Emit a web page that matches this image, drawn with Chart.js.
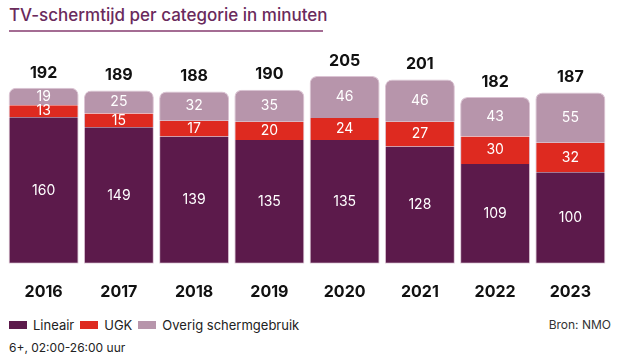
<!DOCTYPE html>
<html>
<head>
<meta charset="utf-8">
<script src="https://cdn.jsdelivr.net/npm/chart.js@4.4.1/dist/chart.umd.min.js"></script>
<style>
  body { margin: 0; background: #fff; font-family: Inter, "DejaVu Sans", sans-serif; }
  #wrap { position: relative; width: 620px; height: 360px; overflow: hidden; }
  #title { position: absolute; left: 9px; top: 5px; width: 314px; font-size: 17px; font-weight: 500;
           color: #6a2a5c; padding-bottom: 5px; border-bottom: 2px solid #a46c93; white-space: nowrap; }
  #chart { position: absolute; left: 0; top: 0; }
  #legend { position: absolute; left: 9px; top: 317px; font-size: 13px; color: #222; display: flex; }
  #legend span.item { display: flex; align-items: center; margin-right: 6px; }
  #legend i { display: inline-block; width: 18px; height: 8px; margin-right: 6px; }
  #bron { position: absolute; right: 9px; top: 317px; font-size: 12px; color: #333; }
  #note { position: absolute; left: 9px; top: 340px; font-size: 12px; color: #222; }
</style>
</head>
<body>
<div id="wrap">
  <div id="title">TV-schermtijd per categorie in minuten</div>
  <canvas id="chart" width="620" height="313"></canvas>
  <div id="legend"></div>
  <div id="bron">Bron: NMO</div>
  <div id="note">6+, 02:00-26:00 uur</div>
</div>
<script>
window.onload = () => {
    // jaren en minuten per categorie
    var years = ['2016', '2017', '2018', '2019', '2020', '2021', '2022', '2023'];
    var lineair = [160, 149, 139, 135, 135, 128, 109, 100];
    var ugk = [13, 15, 17, 20, 24, 27, 30, 32];
    var overig = [19, 25, 32, 35, 46, 46, 43, 55];
    var totals = [192, 189, 188, 190, 205, 201, 182, 187];

    var outline = '#dcc4d4';
    var datasets = [
        { label: 'Lineair', data: lineair, backgroundColor: '#5c1a4b',
          borderColor: outline, borderWidth: { left: 1, right: 1, bottom: 1, top: 0 }, borderSkipped: false },
        { label: 'UGK', data: ugk, backgroundColor: '#de2a20',
          borderColor: outline, borderWidth: { left: 1, right: 1, bottom: 0, top: 0 }, borderSkipped: false },
        { label: 'Overig schermgebruik', data: overig, backgroundColor: '#b795ab',
          borderColor: outline, borderWidth: { left: 1, right: 1, bottom: 0, top: 1 }, borderSkipped: false,
          borderRadius: { topLeft: 7, topRight: 7, bottomLeft: 0, bottomRight: 0 } }
    ];

    // labels in de segmenten en totalen erboven
    var labelPlugin = {
        id: 'labels',
        afterDatasetsDraw(chart) {
            var ctx = chart.ctx;
            ctx.save();
            ctx.textAlign = 'center';
            ctx.textBaseline = 'middle';
            ctx.fillStyle = '#fff';
            ctx.font = '400 14px Inter, sans-serif';
            chart.data.datasets.forEach((ds, i) => {
                chart.getDatasetMeta(i).data.forEach((bar, j) => {
                    ctx.fillText(ds.data[j], bar.x, (bar.y + bar.base) / 2);
                });
            });
            var top = chart.getDatasetMeta(2).data;
            ctx.fillStyle = '#111';
            ctx.font = '700 16px Inter, sans-serif';
            top.forEach((bar, j) => {
                ctx.fillText(totals[j], bar.x, bar.y - 15);
            });
            ctx.restore();
        }
    };

    var ctx = document.getElementById('chart').getContext('2d');
    var myChart = new Chart(ctx, {
        type: 'bar',
        data: { labels: years, datasets: datasets },
        options: {
            responsive: false,
            animation: false,
            layout: { padding: { top: 53, left: 6, right: 12, bottom: 0 } },
            datasets: { bar: { categoryPercentage: 1, barPercentage: 0.93 } },
            plugins: { legend: { display: false }, tooltip: { enabled: false } },
            scales: {
                x: {
                    stacked: true,
                    grid: { display: false },
                    border: { display: false },
                    ticks: { color: '#111', padding: 11, font: { family: 'Inter', size: 16, weight: '700' } }
                },
                y: { stacked: true, display: false, min: 0, max: 230 }
            }
        },
        plugins: [labelPlugin]
    });

    // legenda
    var legend = document.getElementById('legend');
    datasets.forEach(ds => {
        var item = document.createElement('span');
        item.className = 'item';
        item.innerHTML = '<i style="background:' + ds.backgroundColor + '"></i>' + ds.label;
        legend.appendChild(item);
    });
}
</script>
</body>
</html>
